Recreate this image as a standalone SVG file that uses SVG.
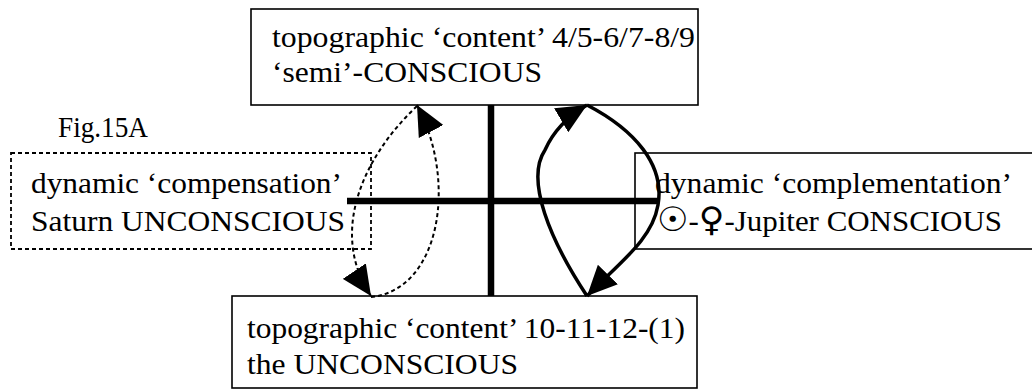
<svg xmlns="http://www.w3.org/2000/svg" width="1032" height="390" viewBox="0 0 1032 390">
<style>
.box{fill:none;stroke:#000;stroke-width:1.6}
.dbox{fill:none;stroke:#000;stroke-width:1.8;stroke-dasharray:4 3}
.t{font-family:"Liberation Serif","DejaVu Serif",serif;font-size:30px;fill:#000}
.sym{font-family:"DejaVu Sans",sans-serif;font-size:34px}
.cross{stroke:#000;stroke-width:6.5;fill:none}
.solid{fill:none;stroke:#000;stroke-width:3.5}
.dash{fill:none;stroke:#000;stroke-width:2;stroke-dasharray:4 3}
</style>
<defs>
<marker id="ah" markerUnits="userSpaceOnUse" markerWidth="30" markerHeight="28" viewBox="0 0 28 26" refX="28" refY="13" orient="auto">
<path d="M0,0 L28,13 L0,26 z" fill="#000"/>
</marker>
</defs>
<rect width="1032" height="390" fill="#fff"/>
<text class="t" x="58" y="137" textLength="90" lengthAdjust="spacingAndGlyphs">Fig.15A</text>
<g id="top">
<rect class="box" x="251" y="9" width="447" height="96"/>
<text class="t" x="272" y="47" textLength="423" lengthAdjust="spacingAndGlyphs">topographic ‘content’ 4/5-6/7-8/9</text>
<text class="t" x="272" y="82" textLength="270" lengthAdjust="spacingAndGlyphs">‘semi’-CONSCIOUS</text>
</g>
<g id="left">
<rect class="dbox" x="11" y="153" width="360" height="96"/>
<text class="t" x="31" y="193" textLength="311" lengthAdjust="spacingAndGlyphs">dynamic ‘compensation’</text>
<text class="t" x="31" y="231" textLength="314" lengthAdjust="spacingAndGlyphs">Saturn UNCONSCIOUS</text>
</g>
<g id="right">
<rect class="box" x="635" y="153" width="420" height="96"/>
<text class="t" x="655" y="193" textLength="357" lengthAdjust="spacingAndGlyphs">dynamic ‘complementation’</text>
<text class="t" x="657" y="231" textLength="345" lengthAdjust="spacingAndGlyphs"><tspan class="sym">☉</tspan>-<tspan class="sym">♀</tspan>-Jupiter CONSCIOUS</text>
</g>
<g id="bottom">
<rect class="box" x="232" y="296" width="465" height="92"/>
<text class="t" x="247" y="338" textLength="438" lengthAdjust="spacingAndGlyphs">topographic ‘content’ 10-11-12-(1)</text>
<text class="t" x="247" y="374" textLength="271" lengthAdjust="spacingAndGlyphs">the UNCONSCIOUS</text>
</g>
<g id="connectors">
<line class="cross" x1="491" y1="105" x2="491" y2="296"/>
<line class="cross" x1="347" y1="201" x2="658" y2="201"/>
<path class="dash" d="M417,106 C360,160 330,235 371,296" marker-end="url(#ah)"/>
<path class="dash" d="M371,297 C440,290 458,182 417,105" marker-end="url(#ah)"/>
<path class="solid" d="M587,296 C550,240 525,180 545,150 C553,132 565,118 587,105" marker-end="url(#ah)"/>
<path class="solid" d="M587,105 C635,130 665,165 658,205 C652,240 620,262 587,296" marker-end="url(#ah)"/>
</g>
</svg>
